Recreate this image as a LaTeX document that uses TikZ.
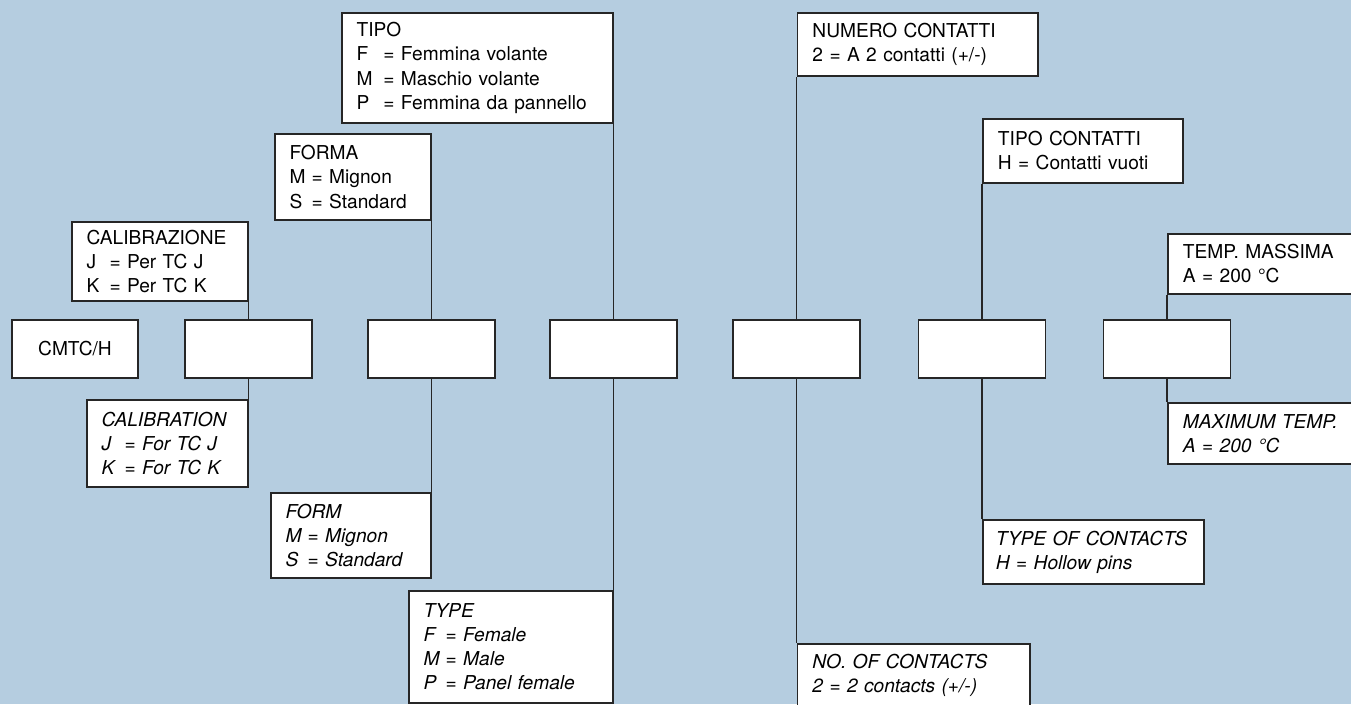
\documentclass[tikz,border=0pt]{standalone}
\usepackage{fontspec}
\setmainfont{TeX Gyre Heros}
\usepackage{tikz}

\newcommand{\codeline}[3][1.2em]{\makebox[#1][l]{#2}= #3}

\tikzset{
  codebox/.style={draw=ink, line width=1.1pt, fill=white, minimum width=2.54cm,
    minimum height=1.16cm, inner sep=0pt, font=\fontsize{10.9}{13.7}\selectfont},
  notebox/.style={draw=ink, line width=1.1pt, fill=white, align=left, inner xsep=0.3cm,
    inner ysep=0pt, font=\fontsize{10.9}{13.7}\selectfont},
  engbox/.style={notebox, font=\fontsize{10.9}{13.7}\selectfont\itshape},
  link/.style={draw=ink, line width=1.1pt}
}

\begin{document}
\begin{tikzpicture}[x=0.02cm, y=-0.02cm]
  \definecolor{sky}{RGB}{181,205,224}
  \definecolor{ink}{RGB}{38,38,38}
  \useasboundingbox (0,0) rectangle (1351,704);
  \clip (0,0) rectangle (1351,704);
  \fill[sky] (0,0) rectangle (1351,704);
  % code row
  \node[codebox, minimum width=2.52cm] (cmtc) at (75,349) {CMTC/H};
  \foreach \kk/\xx in {1/248.5,2/431.5,3/613.5,4/796.5,5/982,6/1167} {
    \node[codebox] (b\kk) at (\xx,349) {};
  }
  % italian notes (above)
  \node[notebox, anchor=north east, text width=2.92cm, minimum height=1.58cm] (cal) at (248.5,221)
       {CALIBRAZIONE\\ \codeline{J}{Per TC J}\\ \codeline{K}{Per TC K}};
  \node[notebox, anchor=north east, text width=2.52cm, minimum height=1.72cm] (forma) at (431.5,133)
       {FORMA\\ \codeline[1.15em]{M}{Mignon}\\ \codeline[1.15em]{S}{Standard}};
  \node[notebox, anchor=north east, text width=4.82cm, minimum height=2.2cm] (tipo) at (613.5,12)
       {TIPO\\ \codeline[1.4em]{F}{Femmina volante}\\ \codeline[1.4em]{M}{Maschio volante}\\
        \codeline[1.4em]{P}{Femmina da pannello}};
  \node[notebox, anchor=north west, text width=4.22cm, minimum height=1.26cm] (num) at (796.5,12)
       {NUMERO CONTATTI\\ 2 = A 2 contatti (+/-)};
  \node[notebox, anchor=north west, text width=3.4cm, minimum height=1.28cm] (tipoc) at (982,118)
       {TIPO CONTATTI\\ H = Contatti vuoti};
  \node[notebox, anchor=north west, text width=3.4cm, minimum height=1.2cm] (temp) at (1167,233)
       {TEMP. MASSIMA\\ A = 200 °C};
  % english notes (below)
  \node[engbox, anchor=north east, text width=2.62cm, minimum height=1.74cm] (calE) at (248.5,399)
       {CALIBRATION\\ \codeline{J}{For TC J}\\ \codeline{K}{For TC K}};
  \node[engbox, anchor=north east, text width=2.6cm, minimum height=1.7cm] (formE) at (431.5,492)
       {FORM\\ \codeline[1.15em]{M}{Mignon}\\ \codeline[1.15em]{S}{Standard}};
  \node[engbox, anchor=north east, text width=3.48cm, minimum height=2.24cm] (typeE) at (613.5,590)
       {TYPE\\ \codeline[1.15em]{F}{Female}\\ \codeline[1.15em]{M}{Male}\\ \codeline[1.15em]{P}{Panel female}};
  \node[engbox, anchor=north west, text width=4.06cm, minimum height=1.26cm] (numE) at (796.5,643)
       {NO. OF CONTACTS\\ 2 = 2 contacts (+/-)};
  \node[engbox, anchor=north west, text width=3.9cm, inner xsep=0.26cm, minimum height=1.28cm] (tipocE) at (982,519)
       {TYPE OF CONTACTS\\ H = Hollow pins};
  \node[engbox, anchor=north west, text width=3.4cm, minimum height=1.22cm] (tempE) at (1167,402)
       {MAXIMUM TEMP.\\ A = 200 °C};
  % leaders
  \draw[link] (b1.north) -- (cal.south east);
  \draw[link] (b1.south) -- (calE.north east);
  \draw[link] (b2.north) -- (forma.south east);
  \draw[link] (b2.south) -- (formE.north east);
  \draw[link] (b3.north) -- (tipo.south east);
  \draw[link] (b3.south) -- (typeE.north east);
  \draw[link] (b4.north) -- (num.south west);
  \draw[link] (b4.south) -- (numE.north west);
  \draw[link] (b5.north) -- (tipoc.south west);
  \draw[link] (b5.south) -- (tipocE.north west);
  \draw[link] (b6.north) -- (temp.south west);
  \draw[link] (b6.south) -- (tempE.north west);
\end{tikzpicture}
\end{document}
